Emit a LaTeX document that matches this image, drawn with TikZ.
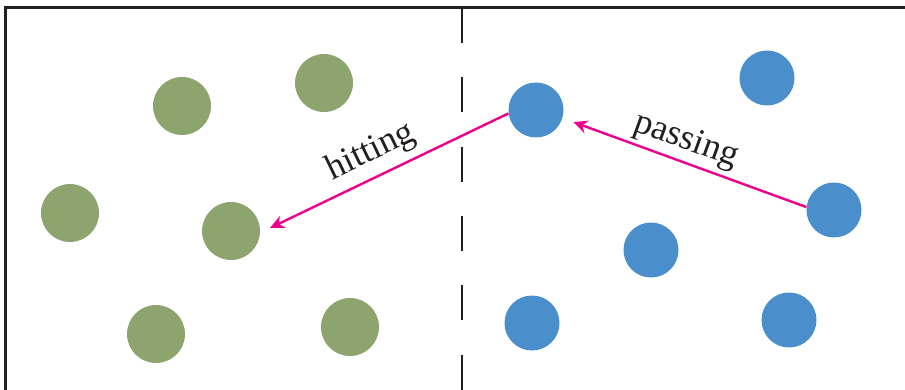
\documentclass[tikz,border=0pt]{standalone}
\usepackage{fontspec}
\setmainfont{Liberation Serif}
\usetikzlibrary{arrows.meta}
\definecolor{ggreen}{HTML}{8DA46F}
\definecolor{bblue}{HTML}{4A8ECC}
\definecolor{mmag}{HTML}{EC008C}
\definecolor{ink}{HTML}{231F20}
\tikzset{
  gball/.style={circle,fill=ggreen,minimum size=58pt,inner sep=0pt},
  bball/.style={circle,fill=bblue,minimum size=55pt,inner sep=0pt},
  arr/.style={draw=mmag,line width=2.4pt,-{Stealth[length=14pt,width=13pt,inset=4.5pt]}},
  lbl/.style={font=\fontsize{36}{40}\selectfont,text=ink,inner sep=0pt},
  frame/.style={draw=ink,line width=3pt},
  divider/.style={draw=ink,line width=2pt,dash pattern=on 35pt off 34.3pt}
}
\begin{document}
\begin{tikzpicture}[x=1pt,y=-1pt]
\useasboundingbox (0,0) rectangle (905,390);
\draw[frame] (5.5,395) -- (5.5,7.5) -- (912,7.5);
\draw[divider] (461.5,8) -- (461.5,395);
% green
\node[gball] (g1) at (182,106) {};
\node[gball] (g2) at (324,83) {};
\node[gball] (g3) at (70,213) {};
\node[gball] (g4) at (231,231) {};
\node[gball] (g5) at (156,334) {};
\node[gball] (g6) at (350,327) {};
% blue
\node[bball] (b1) at (536,110) {};
\node[bball] (b2) at (767,78) {};
\node[bball] (b3) at (651,250) {};
\node[bball] (b4) at (532,323) {};
\node[bball] (b5) at (789,320) {};
\node[bball] (b6) at (834,210) {};
% arrows
\draw[arr] (b1.187) -- ([xshift=10pt]g4.6);
\draw[arr] (b6.174) -- ([shift={(11,3.5)}]b1.-18);
% labels
\node[lbl,rotate=25.6] (th) at (371,152) {hitting};
\node[lbl,rotate=-20] (tp) at (686,141) {passing};
\end{tikzpicture}
\end{document}
